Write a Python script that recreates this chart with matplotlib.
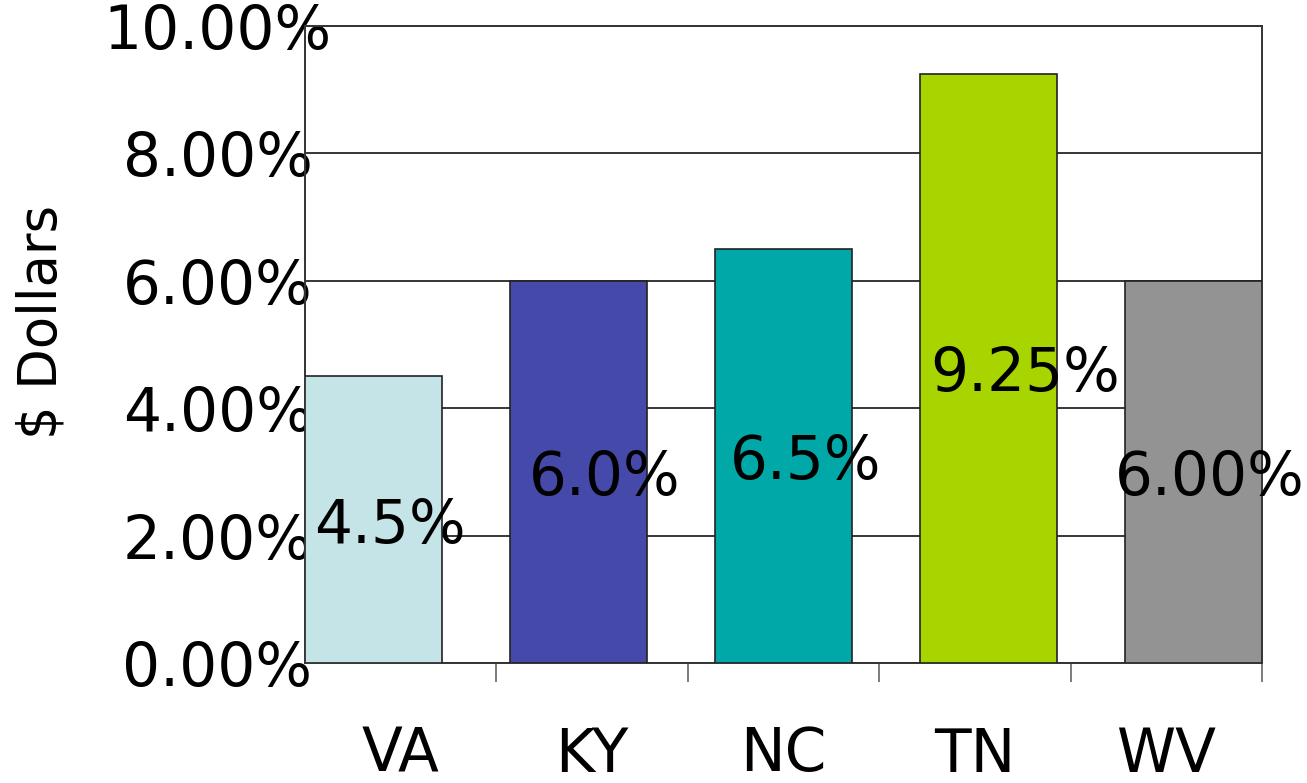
import numpy as np
import matplotlib
matplotlib.use("Agg")
import matplotlib.pyplot as plt
from matplotlib.ticker import FixedLocator, FuncFormatter

# data
states = ['VA', 'KY', 'NC', 'TN', 'WV']
rates = [4.5, 6.0, 6.5, 9.25, 6.0]
rate_labels = ['4.5%', '6.0%', '6.5%', '9.25%', '6.00%']
bar_colors = ['#C5E4E8', '#4549A9', '#00A8A8', '#A8D400', '#939393']

# label nudges (data units) to sit where the original placed them
label_dx = [0.08, 0.13, 0.11, 0.18, 0.08]

W, H = 1307, 783
fig = plt.figure(figsize=(W / 100, H / 100), dpi=100)
ax = fig.add_axes([305 / W, (H - 663) / H, 957 / W, 637 / H])

bw = 0.668
x = np.arange(len(states))
ax.bar(x, rates, width=bw, color=bar_colors, edgecolor='#222222', linewidth=1.2, zorder=3)

xmin, xmax = -bw / 2, len(states) - 1 + bw / 2
ax.set_xlim(xmin, xmax)
ax.set_ylim(0, 10)

# grid
ax.set_yticks(np.arange(0, 10.01, 2))
ax.yaxis.grid(True, color='black', linewidth=1.1, zorder=0)
ax.set_axisbelow(True)
ax.yaxis.set_major_formatter(FuncFormatter(lambda v, p: f'{v:.2f}%'))
ax.tick_params(axis='y', length=0, pad=63, labelsize=43)
for t in ax.get_yticklabels():
    t.set_horizontalalignment('center')
    t.set_verticalalignment('center_baseline')

# x axis: tick marks at slot edges, labels in slot middles
span = xmax - xmin
n = len(states)
edges = [xmin + span * k / n for k in range(1, n + 1)]
mids = [xmin + span * (k - 0.5) / n for k in range(1, n + 1)]
ax.xaxis.set_major_locator(FixedLocator(edges))
ax.xaxis.set_major_formatter(FuncFormatter(lambda v, p: ''))
ax.xaxis.set_minor_locator(FixedLocator(mids))
ax.set_xticklabels(states, minor=True)
ax.tick_params(axis='x', which='major', length=14, width=1.2, color='#666666')
ax.tick_params(axis='x', which='minor', length=0, pad=45, labelsize=43)

for s in ax.spines.values():
    s.set_color('#333333')
    s.set_linewidth(1.4)

# value labels inside bars
for i, (v, lab) in enumerate(zip(rates, rate_labels)):
    ax.text(i + label_dx[i], v / 2 - 0.1, lab, ha='center', va='center',
            fontsize=43, color='black', zorder=4, clip_on=False)

fig.text(42 / W, 1 - 322 / H, '$ Dollars', rotation=90, ha='center', va='center', fontsize=38)

fig.savefig('out.png', dpi=100)
